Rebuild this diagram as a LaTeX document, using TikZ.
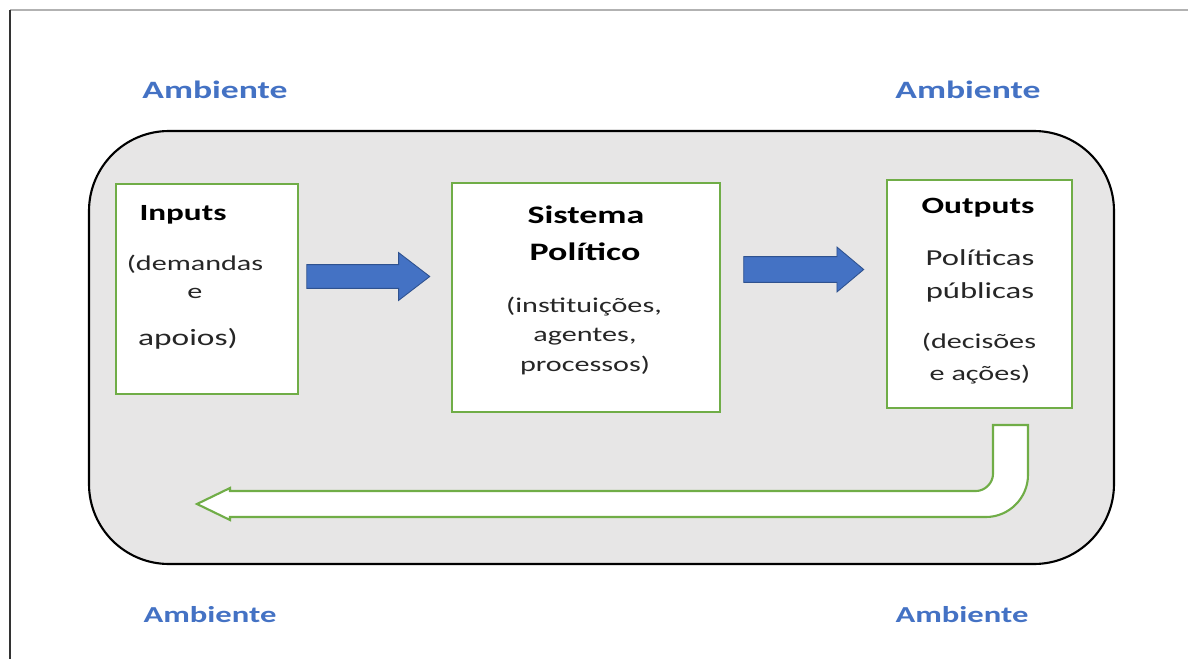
\documentclass[tikz,border=0pt]{standalone}
\usepackage{fontspec}
\newfontfamily\calfont[FakeStretch=1.43]{Carlito}
\usetikzlibrary{shapes.arrows}
\definecolor{ambblue}{HTML}{4472C4}
\definecolor{boxgreen}{HTML}{70AD47}
\definecolor{envgray}{HTML}{E7E6E6}
\definecolor{arrborder}{HTML}{2F528F}
\definecolor{txtgray}{HTML}{262626}
\begin{document}
\begin{tikzpicture}[x=0.02cm, y=-0.02cm,
  amb/.style={anchor=base, inner sep=0, text=ambblue, font=\calfont\bfseries\fontsize{#1}{16}\selectfont},
  ttl/.style={anchor=base, inner sep=0, text=black, font=\calfont\bfseries\fontsize{#1}{16}\selectfont},
  txt/.style={anchor=base, inner sep=0, text=txtgray, font=\calfont\fontsize{#1}{15}\selectfont},
  box/.style={draw=boxgreen, fill=white, line width=1.5pt, inner sep=0},
  blockarr/.style={single arrow, draw=arrborder, fill=ambblue, line width=0.5pt, inner sep=0}]
\useasboundingbox (0,0) rectangle (1188,659);
\draw[gray!60, line width=0.6pt] (10,10) -- (1188,10);
\draw[black!80, line width=0.8pt] (10,10) -- (10,659);
\draw[fill=envgray, line width=1.2pt, rounded corners=1.6cm] (89,131) rectangle (1114,564);
\node[amb=14.2] (amb0) at (215,98) {Ambiente};
\node[amb=14.2] (amb1) at (968,98) {Ambiente};
\node[amb=13] (amb2) at (210,622) {Ambiente};
\node[amb=13] (amb3) at (962,622) {Ambiente};
\node[box, minimum width=3.64cm, minimum height=4.2cm] (inputs) at (207,289) {};
\node[box, minimum width=5.36cm, minimum height=4.58cm] (sistema) at (586,297.5) {};
\node[box, minimum width=3.7cm, minimum height=4.56cm] (outputs) at (979.5,294) {};
\node[ttl=13.2] (in0) at (183,220) {Inputs};
\node[txt=12] (in1) at (195,270) {(demandas};
\node[txt=12] (in2) at (195,298) {e};
\node[txt=13.3] (in3) at (188,345) {apoios)};
\node[ttl=14.3] (si0) at (586,223) {Sistema};
\node[ttl=14.3] (si1) at (585,260) {Político};
\node[txt=12] (si2) at (584,312) {(instituições,};
\node[txt=12] (si3) at (585,341) {agentes,};
\node[txt=12] (si4) at (585,371) {processos)};
\node[ttl=13.3] (out0) at (978,213) {Outputs};
\node[txt=13] (out1) at (980,265) {Políticas};
\node[txt=13] (out2) at (980,298) {públicas};
\node[txt=12] (out3) at (979,348) {(decisões};
\node[txt=12] (out4) at (980,380) {e ações)};
\node[blockarr, minimum height=2.46cm, minimum width=0.94cm, inner ysep=0.23cm,
  single arrow head extend=0.24cm, single arrow tip angle=75] (arr0) at (360.5,276.5) {};
\node[blockarr, minimum height=2.4cm, minimum width=0.88cm, inner ysep=0.25cm,
  single arrow head extend=0.19cm, single arrow tip angle=80] (arr1) at (796,269.5) {};
\draw[draw=boxgreen, fill=white, line width=1.2pt, line join=miter]
  (993,425) -- (1028,425) -- (1028,475)
  .. controls (1028,498) and (1009,517) .. (986,517)
  -- (230,517) -- (230,520) -- (197,504) -- (230,488) -- (230,491) -- (976,491)
  .. controls (985,491) and (993,483) .. (993,474) -- cycle;
\end{tikzpicture}
\end{document}
